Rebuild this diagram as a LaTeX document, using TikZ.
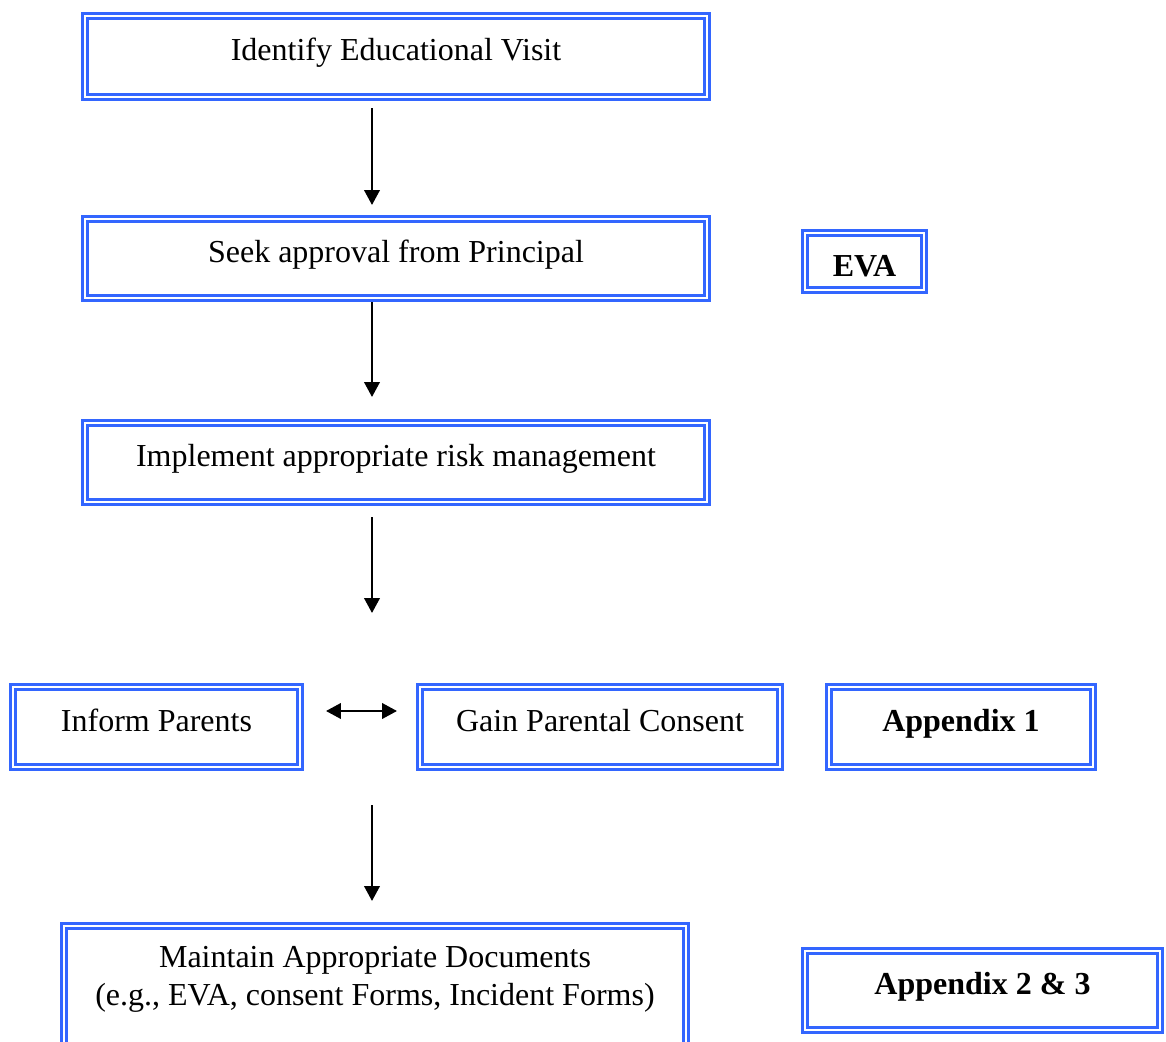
\documentclass[tikz,border=0pt]{standalone}
\usepackage{fontspec}
\setmainfont{Liberation Serif}
\usetikzlibrary{arrows.meta}
\definecolor{boxblue}{RGB}{51,102,255}

\begin{document}
\begin{tikzpicture}[x=0.375pt, y=-0.375pt,
    stepbox/.style={draw=boxblue, double=white, line width=1.05pt, double distance=0.8pt,
        align=center, text height=9pt, text depth=6pt, font=\fontsize{12}{14.25}\selectfont},
    refbox/.style={stepbox, font=\fontsize{12}{14.25}\selectfont\bfseries},
    flow/.style={-{Triangle[length=5.6pt,width=5.8pt]}, line width=0.85pt},
    both/.style={{Triangle[length=5.6pt,width=5.8pt]}-{Triangle[length=5.6pt,width=5.8pt]}, line width=0.85pt}]
    \clip (0,0) rectangle (1166,1042);
    \node[stepbox, minimum width=622*0.375pt, minimum height=81*0.375pt] (ident) at (396,56.5) {Identify Educational Visit};
    \node[stepbox, minimum width=622*0.375pt, minimum height=79*0.375pt] (seek) at (396,258.5) {Seek approval from Principal};
    \node[stepbox, minimum width=622*0.375pt, minimum height=79*0.375pt] (risk) at (396,462.5) {Implement appropriate risk management};
    \node[stepbox, minimum width=287*0.375pt, minimum height=80*0.375pt] (inform) at (156.5,727) {Inform Parents};
    \node[stepbox, minimum width=360*0.375pt, minimum height=80*0.375pt] (consent) at (600,727) {Gain Parental Consent};
    \node[stepbox, minimum width=622*0.375pt, minimum height=130*0.375pt, text height=15.7pt, text depth=5.2pt] (docs) at (375,991)
        {Maintain Appropriate Documents\\(e.g., EVA, consent Forms, Incident Forms)};
    \node[refbox, minimum width=119*0.375pt, minimum height=57*0.375pt, text height=12pt, text depth=0.6pt] (eva) at (864.5,261.5) {EVA};
    \node[refbox, minimum width=264*0.375pt, minimum height=80*0.375pt] (app1) at (961,727) {Appendix 1};
    \node[refbox, minimum width=355*0.375pt, minimum height=79*0.375pt] (app23) at (982.5,990.5) {Appendix 2 \& 3};

    \coordinate (a1s) at (372,108);
    \coordinate (a1e) at (372,205);
    \coordinate (a2s) at (372,302);
    \coordinate (a2e) at (372,397);
    \coordinate (a3s) at (372,517);
    \coordinate (a3e) at (372,613);
    \coordinate (a4s) at (372,805);
    \coordinate (a4e) at (372,901);
    \coordinate (bl) at (326,711);
    \coordinate (br) at (397,711);
    \draw[flow] (a1s) -- (a1e);
    \draw[flow] (a2s) -- (a2e);
    \draw[flow] (a3s) -- (a3e);
    \draw[flow] (a4s) -- (a4e);
    \draw[both] (bl) -- (br);
\end{tikzpicture}
\end{document}
